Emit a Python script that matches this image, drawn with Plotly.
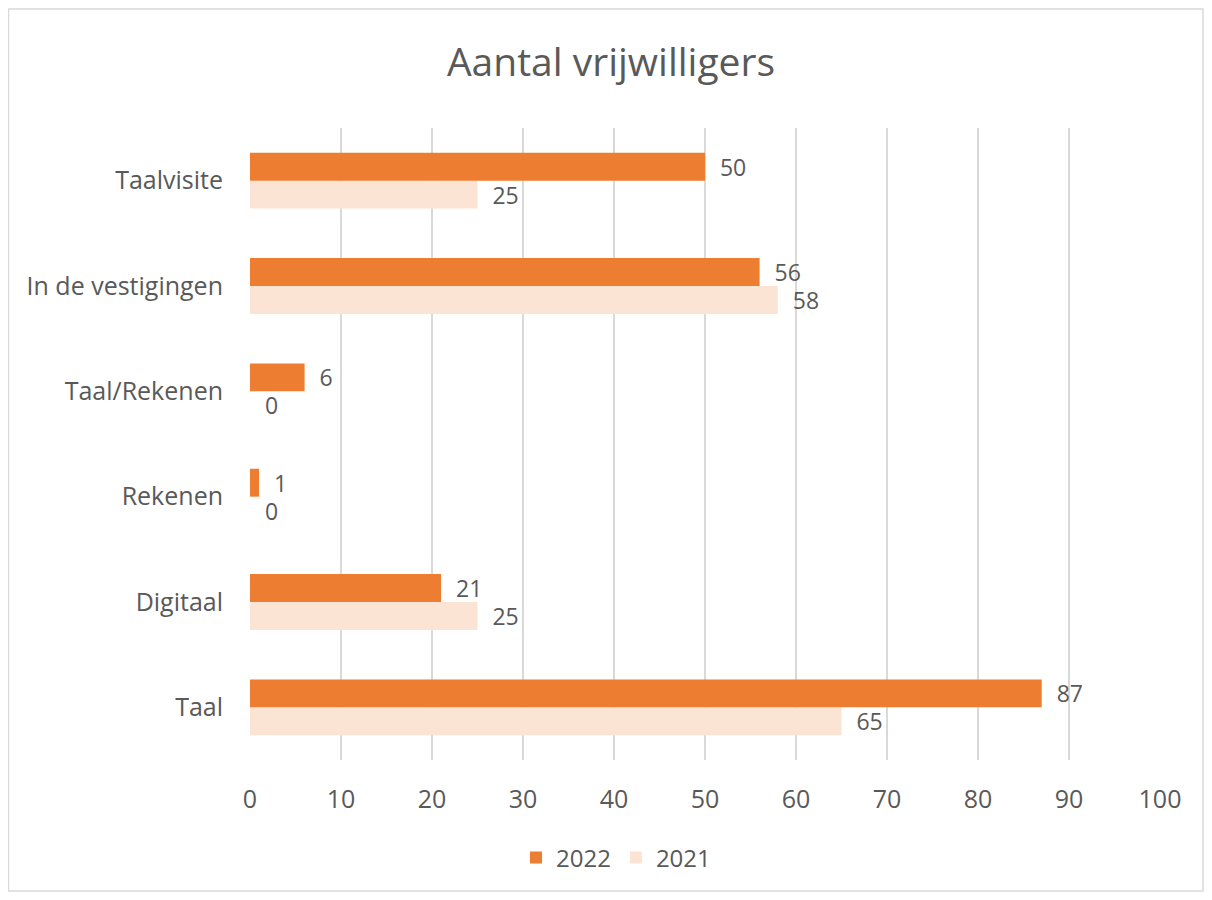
import plotly.graph_objects as go

categories = ["Taal", "Digitaal", "Rekenen", "Taal/Rekenen", "In de vestigingen", "Taalvisite"]
values_2022 = [87, 21, 1, 6, 56, 50]
values_2021 = [65, 25, 0, 0, 58, 25]
x_ticks = [0, 10, 20, 30, 40, 50, 60, 70, 80, 90, 100]

ORANGE = "#ED7D31"
PEACH = "#FCE4D4"
TEXT = "#595959"
FONT = "Open Sans"

# page has an 8px body margin, so the figure sits at (8, 8)
W, H = 1196, 884
L, R, T, B = 242, 44, 120, 132
pw, ph = W - L - R, H - T - B

fig = go.Figure()
for name, vals, color in [("2021", values_2021, PEACH), ("2022", values_2022, ORANGE)]:
    fig.add_trace(go.Bar(
        y=categories, x=vals, name=name, orientation="h",
        marker={"color": color, "line": {"width": 0}},
        text=vals, texttemplate="  %{x}", textposition="outside", constraintext="none",
        textfont={"family": FONT, "size": 23, "color": TEXT},
        cliponaxis=False,
    ))

# outer chart border
fig.add_shape(
    type="rect", xref="paper", yref="paper",
    x0=(0.5 - L) / pw, x1=(1195 - L) / pw,
    y0=1 - (883 - T) / ph, y1=1 + (T - 1) / ph,
    line={"color": "#D9D9D9", "width": 1.5},
)

fig.update_layout(
    width=W, height=H,
    margin={"l": L, "r": R, "t": T, "b": B, "autoexpand": False},
    paper_bgcolor="white", plot_bgcolor="white",
    barmode="group", bargap=0.47, bargroupgap=0,
    title={"text": "Aantal vrijwilligers", "x": (611 - 8) / W, "xref": "container",
           "y": 1 - 54 / H, "xanchor": "center", "yanchor": "middle",
           "font": {"family": FONT, "size": 39, "color": TEXT}},
    legend={"orientation": "h", "x": (616 - 8 - L) / pw, "xanchor": "center",
            "y": -(850 - (H - B)) / ph, "yanchor": "middle", "traceorder": "reversed",
            "font": {"family": FONT, "size": 24, "color": TEXT}},
    showlegend=True,
)
fig.update_xaxes(
    range=[0, 100], tickvals=x_ticks, showgrid=True, gridcolor="#D9D9D9", gridwidth=1.5,
    zeroline=False, showline=False, ticklabelstandoff=22, tickangle=0, automargin=False,
    tickfont={"family": FONT, "size": 25, "color": TEXT},
)
fig.update_yaxes(
    showgrid=False, showline=False, ticklabelstandoff=26, automargin=False,
    tickfont={"family": FONT, "size": 25, "color": TEXT},
)

fig.write_html("out.html")
